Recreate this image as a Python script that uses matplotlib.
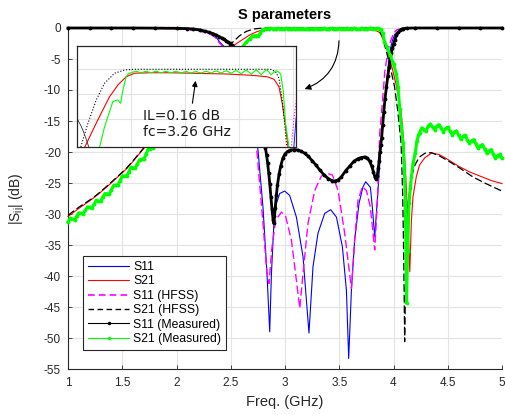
import matplotlib
matplotlib.use("Agg")
import matplotlib.pyplot as plt
from matplotlib.lines import Line2D
from matplotlib.patches import FancyArrowPatch

plt.rcParams['font.family'] = ['Liberation Sans', 'DejaVu Sans']
plt.rcParams['mathtext.fontset'] = 'custom'
plt.rcParams['mathtext.rm'] = 'Liberation Sans'
plt.rcParams['mathtext.it'] = 'Liberation Sans:italic'

# ---------------- data (GHz, dB) ----------------
f_s11 = [1.0, 1.5, 2.0, 2.1, 2.2, 2.3, 2.335, 2.37, 2.4, 2.45, 2.5, 2.55, 2.6, 2.65, 2.7,
         2.751, 2.797, 2.834, 2.859, 2.875, 2.896, 2.921, 2.951, 2.997, 3.043, 3.105, 3.166,
         3.221, 3.258, 3.304, 3.366, 3.421, 3.474, 3.529, 3.566, 3.587, 3.612, 3.642, 3.682,
         3.719, 3.744, 3.787, 3.805, 3.827, 3.857, 3.888, 3.91, 3.935, 3.955, 3.974, 3.99,
         4.01, 4.04, 4.08, 4.13, 4.2, 4.5, 5.0]
s11 = [0, 0, -0.08, -0.2, -0.4, -0.8, -1.16, -1.6, -2.3, -3.2, -4.2, -5.6, -7.6, -10.2, -13.8,
       -19.7, -28.9, -39.6, -49.0, -39.6, -32.1, -28.3, -26.7, -26.3, -27.0, -30.5, -36.9,
       -49.2, -38.5, -33.1, -29.9, -29.3, -30.5, -35.3, -42.3, -53.3, -42.3, -34.2, -28.3,
       -25.6, -24.8, -25.7, -28.9, -33.7, -26.2, -18.1, -13.5, -9.0, -5.5, -3.2, -2.0,
       -1.1, -0.5, -0.2, -0.08, -0.02, 0, 0]

f_s21 = [1.0, 1.1, 1.23, 1.3, 1.385, 1.46, 1.54, 1.6, 1.69, 1.8, 1.9, 2.0, 2.1, 2.2, 2.3, 2.4,
         2.45, 2.502, 2.56, 2.618, 2.677, 2.736, 2.794, 2.853, 2.97, 3.1, 3.26, 3.5, 3.671,
         3.788, 3.835, 3.87, 3.893, 3.917, 3.934, 3.96, 3.99, 4.02, 4.05, 4.073, 4.09, 4.11,
         4.13, 4.15, 4.165, 4.18, 4.21, 4.24, 4.29, 4.35, 4.42, 4.5, 4.6, 4.7, 4.8, 4.9, 5.0]
s21 = [-30.4, -29.1, -27.5, -26.5, -25.2, -24.0, -22.7, -21.5, -19.6, -17.3, -15.0, -12.8,
       -10.6, -8.6, -6.8, -5.0, -4.1, -3.12, -2.43, -1.76, -1.1, -0.63, -0.3, -0.16, -0.14,
       -0.14, -0.16, -0.19, -0.24, -0.3, -0.4, -0.7, -1.36, -2.3, -3.12, -4.7, -6.6, -8.8,
       -11.5, -14.0, -17.5, -23.0, -30.0, -39.3, -31.0, -27.2, -24.0, -22.1, -20.9, -20.2,
       -20.4, -21.2, -22.3, -23.2, -23.9, -24.6, -25.1]

f_s11_hfss = [1.0, 1.5, 2.0, 2.1, 2.2, 2.3, 2.35, 2.4, 2.45, 2.5, 2.6, 2.7, 2.74, 2.797,
              2.834, 2.853, 2.877, 2.914, 2.967, 3.006, 3.059, 3.105, 3.136, 3.166, 3.212,
              3.274, 3.335, 3.382, 3.437, 3.489, 3.55, 3.612, 3.642, 3.673, 3.713, 3.75,
              3.787, 3.827, 3.852, 3.873, 3.9, 3.92, 3.95, 3.975, 4.0, 4.03, 4.08, 4.2, 5.0]
s11_hfss = [0, 0, -0.1, -0.25, -0.45, -0.9, -1.4, -2.5, -3.4, -4.6, -8.5, -15.0, -19.7, -31.5,
            -39.6, -41.2, -35.8, -31.0, -29.7, -30.4, -34.2, -40.7, -45.2, -39.6, -31.5,
            -26.2, -23.9, -23.4, -23.7, -26.2, -33.1, -42.0, -34.2, -27.8, -25.6, -26.2,
            -28.9, -35.8, -27.8, -17.0, -11.5, -7.0, -3.6, -2.0, -0.9, -0.3, -0.05, 0, 0]

f_s21_hfss = [1.0, 1.1, 1.23, 1.3, 1.385, 1.46, 1.54, 1.6, 1.69, 1.8, 2.0, 2.2, 2.3, 2.4,
              2.474, 2.525, 2.583, 2.642, 2.712, 2.783, 2.853, 3.2, 3.5, 3.811, 3.846, 3.87,
              3.893, 3.91, 3.924, 3.96, 4.01, 4.04, 4.07, 4.085, 4.095, 4.103, 4.115, 4.13,
              4.165, 4.2, 4.24, 4.29, 4.35, 4.42, 4.52, 4.62, 4.73, 4.84, 4.95, 5.0]
s21_hfss = [-30.2, -28.9, -27.4, -26.4, -25.1, -23.9, -22.6, -21.4, -19.5, -17.0, -12.5, -8.2,
            -6.2, -4.4, -3.12, -2.16, -1.23, -0.56, -0.16, -0.03, 0.0, 0.0, 0.0, 0.0, -0.1,
            -0.36, -1.23, -2.16, -3.12, -5.5, -9.5, -13.5, -18.6, -27.0, -38.0, -50.6, -37.0,
            -29.0, -24.0, -22.0, -20.8, -20.2, -20.1, -20.6, -21.6, -22.7, -24.0, -25.0,
            -25.9, -26.3]

f_s11_meas = [1.0, 1.2, 1.4, 1.6, 1.8, 2.0, 2.1, 2.15, 2.216, 2.26, 2.3, 2.335, 2.368, 2.395,
              2.42, 2.44, 2.46, 2.475, 2.49, 2.51, 2.53, 2.555, 2.58, 2.605, 2.63, 2.655,
              2.68, 2.705, 2.73, 2.755, 2.78, 2.8, 2.82, 2.83, 2.84, 2.85, 2.86, 2.87, 2.88,
              2.89, 2.896, 2.903, 2.91, 2.92, 2.93, 2.945, 2.96, 2.98, 3.0, 3.025, 3.05,
              3.085, 3.12, 3.15, 3.18, 3.215, 3.25, 3.285, 3.32, 3.36, 3.4, 3.43, 3.458,
              3.49, 3.52, 3.56, 3.6, 3.635, 3.67, 3.7, 3.735, 3.76, 3.78, 3.8, 3.815, 3.828,
              3.84, 3.85, 3.86, 3.868, 3.875, 3.883, 3.89, 3.9, 3.91, 3.922, 3.935, 3.948,
              3.96, 3.97, 3.98, 3.99, 4.0, 4.013, 4.027, 4.045, 4.06, 4.075, 4.09, 4.12, 4.2,
              4.4, 4.6, 4.8, 5.0]
s11_meas = [0, 0, 0, 0, -0.02, -0.05, -0.1, -0.15, -0.3, -0.5, -0.7, -0.9, -1.16, -1.4, -1.65,
            -1.85, -2.1, -2.25, -2.45, -2.75, -3.1, -3.7, -4.5, -5.4, -6.5, -7.9, -9.5, -11.4,
            -13.5, -15.4, -17.0, -18.3, -19.4, -20.5, -21.8, -23.4, -25.2, -27.2, -29.2,
            -30.9, -31.5, -30.4, -29.0, -27.0, -25.4, -23.6, -22.3, -21.0, -20.3, -19.9,
            -19.7, -19.6, -19.7, -19.9, -20.2, -20.7, -21.4, -22.1, -22.9, -23.7, -24.3,
            -24.6, -24.7, -24.5, -24.0, -23.0, -22.2, -21.5, -21.1, -20.9, -20.8, -21.0,
            -21.5, -22.3, -23.2, -24.0, -24.4, -23.8, -22.6, -21.4, -20.0, -18.9, -17.8,
            -15.7, -13.6, -11.4, -9.5, -7.7, -6.3, -5.1, -4.1, -3.3, -2.6, -1.9, -1.2, -0.7,
            -0.4, -0.2, -0.1, -0.03, 0, 0, 0, 0, 0]

f_s21_meas = [1.00, 1.02, 1.04, 1.06, 1.08, 1.10, 1.12, 1.14, 1.16, 1.18, 1.20, 1.22, 1.24,
              1.26, 1.28, 1.30, 1.32, 1.34, 1.36, 1.38, 1.40, 1.42, 1.44, 1.46, 1.48, 1.50,
              1.52, 1.54, 1.56, 1.58, 1.60, 1.62, 1.64, 1.66, 1.68, 1.70, 1.72, 1.74, 1.76,
              1.78, 1.85, 1.9, 2.0, 2.1, 2.2, 2.3, 2.4, 2.5, 2.56, 2.607, 2.642, 2.677, 2.70,
              2.72, 2.736, 2.755, 2.771, 2.794, 2.81, 2.829, 2.85, 2.865, 2.885, 2.905, 2.92,
              2.94, 2.955, 2.975, 2.99, 3.01, 3.025, 3.045, 3.06, 3.08, 3.095, 3.115, 3.13,
              3.15, 3.165, 3.185, 3.2, 3.22, 3.235, 3.255, 3.27, 3.29, 3.305, 3.325, 3.34,
              3.36, 3.375, 3.395, 3.41, 3.43, 3.445, 3.465, 3.48, 3.5, 3.515, 3.535, 3.55,
              3.57, 3.585, 3.605, 3.62, 3.64, 3.655, 3.675, 3.69, 3.71, 3.725, 3.745, 3.76,
              3.78, 3.795, 3.815, 3.83, 3.85, 3.865, 3.882, 3.9, 3.917, 3.941, 3.97, 4.0,
              4.027, 4.042, 4.057, 4.073, 4.088, 4.1, 4.11, 4.12, 4.13, 4.143, 4.155, 4.165,
              4.18, 4.2, 4.215, 4.23, 4.24, 4.26, 4.28, 4.30, 4.32, 4.34, 4.36, 4.38, 4.40,
              4.42, 4.44, 4.46, 4.48, 4.50, 4.52, 4.54, 4.56, 4.58, 4.60, 4.62, 4.64, 4.66,
              4.68, 4.70, 4.72, 4.74, 4.76, 4.78, 4.80, 4.82, 4.84, 4.86, 4.88, 4.90, 4.92,
              4.94, 4.96, 4.98, 5.00]
s21_meas = [-31.3, -30.7, -30.8, -30.95, -30.35, -29.8, -29.9, -30.0, -29.4, -28.85, -28.95,
            -29.05, -28.45, -27.8, -27.9, -27.95, -27.3, -26.7, -26.75, -26.8, -26.1, -25.4,
            -25.4, -25.35, -24.6, -23.9, -23.9, -23.85, -23.2, -22.5, -22.55, -22.6, -21.9,
            -21.25, -21.2, -21.1, -20.3, -19.55, -19.5, -19.4, -17.8, -16.8, -14.8, -12.8,
            -10.8, -8.8, -6.8, -5.0, -4.0, -3.12, -2.3, -1.7, -1.3, -1.25, -1.23, -1.36,
            -0.83, -0.3, -0.18, -0.14, -0.10, -0.08, -0.12, -0.14, -0.10, -0.08, -0.12,
            -0.14, -0.10, -0.08, -0.12, -0.14, -0.10, -0.08, -0.12, -0.14, -0.10, -0.09,
            -0.12, -0.15, -0.11, -0.09, -0.13, -0.15, -0.11, -0.09, -0.13, -0.15, -0.11,
            -0.08, -0.12, -0.15, -0.10, -0.07, -0.11, -0.15, -0.10, -0.06, -0.11, -0.16,
            -0.10, -0.05, -0.11, -0.18, -0.11, -0.03, -0.10, -0.20, -0.12, -0.02, -0.10,
            -0.22, -0.12, -0.02, -0.08, -0.22, -0.14, -0.06, -0.10, -0.19, -0.86, -2.19,
            -3.12, -4.4, -5.8, -7.4, -9.5, -13.0, -16.0, -18.6, -22.5, -29.0, -44.4, -36.0,
            -28.3, -25.8, -24.0, -21.8, -20.2, -18.3, -17.3, -16.9, -16.1, -16.4, -16.6,
            -15.8, -15.5, -16.0, -16.4, -15.8, -15.6, -16.2, -16.7, -16.2, -16.0, -16.6,
            -17.2, -16.8, -16.6, -17.3, -17.9, -17.5, -17.3, -18.0, -18.6, -18.2, -18.0,
            -18.7, -19.4, -19.0, -18.8, -19.5, -20.2, -19.8, -19.6, -20.3, -21.0, -20.6,
            -20.4, -21.0]

x_ticks = [1, 1.5, 2, 2.5, 3, 3.5, 4, 4.5, 5]
x_tick_labels = ['1', '1.5', '2', '2.5', '3', '3.5', '4', '4.5', '5']
y_ticks = [0, -5, -10, -15, -20, -25, -30, -35, -40, -45, -50, -55]
y_tick_labels = ['0', '-5', '-10', '-15', '-20', '-25', '-30', '-35', '-40', '-45', '-50', '-55']
legend_labels = ['S11', 'S21', 'S11 (HFSS)', 'S21 (HFSS)', 'S11 (Measured)', 'S21 (Measured)']

# ---------------- figure ----------------
W, H = 505, 415
fig = plt.figure(figsize=(W / 100, H / 100), dpi=100)


def fx(px):
    return px / W


def fy(py):
    return 1 - py / H


ax = fig.add_axes([fx(68), fy(369), (502 - 68) / W, (369 - 28) / H])

dash = (6, 2.5)
ax.plot(f_s11, s11, color='#0000ff', lw=0.8, clip_on=False, zorder=3)
ax.plot(f_s21, s21, color='#ff0000', lw=0.8, clip_on=False, zorder=3)
ax.plot(f_s11_hfss, s11_hfss, color='#ff00ff', lw=1.0, dashes=dash, clip_on=False, zorder=3)
ax.plot(f_s21_hfss, s21_hfss, color='#000000', lw=0.9, dashes=dash, clip_on=False, zorder=3)
ax.plot(f_s11_meas, s11_meas, color='#000000', lw=2.0, marker='.', ms=3.5,
        clip_on=False, zorder=4)
ax.plot(f_s21_meas, s21_meas, color='#00ff00', lw=2.2, marker='.', ms=3.5,
        clip_on=False, zorder=4)

ax.set_xlim(1, 5)
ax.set_ylim(-55, 0)
ax.set_xticks(x_ticks)
ax.set_xticklabels(x_tick_labels)
ax.set_yticks(y_ticks)
ax.set_yticklabels(y_tick_labels)
ax.grid(True, color='#e3e3e3', lw=0.8)
ax.set_axisbelow(True)
for s in ('top', 'right'):
    ax.spines[s].set_visible(False)
for s in ('left', 'bottom'):
    ax.spines[s].set_color('#262626')
    ax.spines[s].set_linewidth(0.8)
ax.tick_params(direction='in', length=3, width=0.6, colors='#262626', labelsize=8.5)
ax.tick_params(axis='x', pad=6)
ax.tick_params(axis='y', pad=5)

ax.set_xlabel('Freq. (GHz)', fontsize=10.5, color='#262626', labelpad=4)
ax.set_ylabel(r'|S$_{\mathrm{ij}}$| (dB)', fontsize=10, color='#262626', labelpad=12)
fig.text(fx(285), fy(15), 'S parameters', ha='center', va='center',
         fontsize=10.5, fontweight='bold', color='#000000')

handles = [
    Line2D([], [], color='#0000ff', lw=0.8),
    Line2D([], [], color='#ff0000', lw=0.8),
    Line2D([], [], color='#ff00ff', lw=1.2, dashes=(4, 2.5)),
    Line2D([], [], color='#000000', lw=1.0, dashes=(4, 2.5)),
    Line2D([], [], color='#000000', lw=0.8, marker='.', ms=3),
    Line2D([], [], color='#00ff00', lw=0.8, marker='.', ms=3),
]
leg = ax.legend(handles, legend_labels, loc='lower left',
                bbox_to_anchor=((83 - 68) / 434, (369 - 350) / 341), borderaxespad=0,
                fontsize=8.8, handlelength=3.4, handletextpad=0.3, labelspacing=0.2,
                borderpad=0.4, fancybox=False, framealpha=1, edgecolor='#262626')
leg.get_frame().set_linewidth(0.8)

# ---------------- inset: passband detail ----------------
ins = fig.add_axes([fx(77.3), fy(147), (296 - 77.3) / W, (147 - 46) / H])
ins.plot(f_s11, s11, color='#0000ff', lw=0.6)
ins.plot(f_s21, s21, color='#ff0000', lw=0.8)
ins.plot(f_s11_hfss, s11_hfss, color='#ff00ff', lw=0.8, ls=':')
ins.plot(f_s21_hfss, s21_hfss, color='#000000', lw=0.8, ls=':')
ins.plot(f_s11_meas, s11_meas, color='#333333', lw=0.6)
ins.plot(f_s21_meas, s21_meas, color='#00ff00', lw=0.8)
ins.set_xlim(2.45, 3.99)
ins.set_ylim(-3.11, 0.93)
ins.set_xticks([2.83, 3.21, 3.59, 3.97])
ins.set_yticks([0, -1, -2])
ins.tick_params(length=0, labelbottom=False, labelleft=False)
ins.grid(True, color='#e3e3e3', lw=0.8)
ins.set_axisbelow(True)
for s in ins.spines.values():
    s.set_color('#262626')
    s.set_linewidth(0.9)

fig.text(fx(143), fy(124), 'IL=0.16 dB\nfc=3.26 GHz', ha='left', va='center',
         fontsize=10, family='DejaVu Sans', linespacing=1.2, color='#1a1a1a')
fig.add_artist(FancyArrowPatch((fx(192), fy(106)), (fx(196), fy(78)),
                               transform=fig.transFigure, arrowstyle='-|>',
                               mutation_scale=8, lw=0.8, color='#000000'))
fig.add_artist(FancyArrowPatch((fx(339), fy(38)), (fx(302), fy(90)),
                               transform=fig.transFigure, arrowstyle='-|>',
                               connectionstyle='arc3,rad=-0.36',
                               mutation_scale=9, lw=0.8, color='#000000'))

fig.savefig('out.png', dpi=100)
